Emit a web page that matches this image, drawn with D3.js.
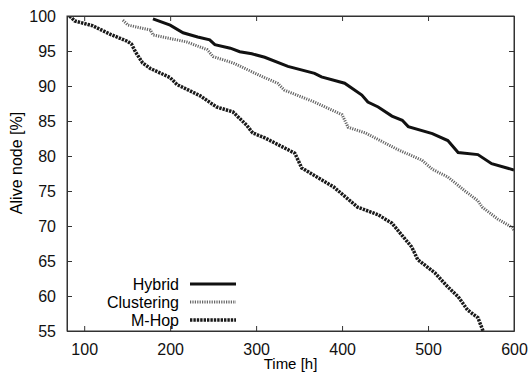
<!DOCTYPE html>
<html>
<head>
<meta charset="utf-8">
<script src="https://cdn.jsdelivr.net/npm/d3@7/dist/d3.min.js"></script>
<style>
    body { margin: 0; background: #fff; }
    svg { display: block; font-family: "Liberation Sans", Arial, sans-serif; }
    .axis path, .axis line { stroke: #333; }
    .axis text { fill: #111; font-size: 16px; }
</style>
</head>
<body>
<svg id="chart" width="530" height="386"></svg>
<script>
    // values
    var hybridTime = [180, 200, 215, 232, 246, 252, 270, 281, 295, 310, 337, 368, 376, 403, 423, 430, 442, 458, 470, 477, 505, 523, 535, 558, 574, 600];
    var hybridAlive = [99.6, 98.7, 97.6, 97.0, 96.6, 95.9, 95.4, 94.9, 94.6, 94.1, 92.8, 91.8, 91.3, 90.4, 88.7, 87.7, 87.0, 85.7, 85.1, 84.2, 83.2, 82.2, 80.5, 80.2, 78.9, 78.0];

    var clusteringTime = [145, 151, 177, 180, 219, 243, 250, 273, 308, 325, 333, 368, 400, 407, 427, 465, 493, 505, 523, 543, 558, 563, 581, 598, 600];
    var clusteringAlive = [99.4, 98.7, 98.0, 97.3, 96.3, 95.2, 94.2, 93.3, 91.3, 90.4, 89.4, 87.7, 85.9, 84.1, 83.3, 80.9, 79.4, 78.1, 77.0, 75.0, 73.6, 72.7, 71.0, 69.8, 69.3];

    var mhopTime = [83, 89, 110, 130, 150, 155, 160, 168, 177, 200, 208, 235, 254, 273, 289, 296, 310, 345, 353, 390, 418, 442, 458, 481, 488, 508, 523, 535, 546, 558, 564];
    var mhopAlive = [100, 99.3, 98.6, 97.4, 96.4, 96.0, 94.8, 93.3, 92.5, 91.2, 90.2, 88.6, 87.0, 86.3, 84.4, 83.3, 82.6, 80.4, 78.3, 75.6, 72.7, 71.6, 70.4, 67.0, 65.2, 63.3, 61.3, 59.9, 58.0, 56.9, 55.0];

    var xTicks = [100, 200, 300, 400, 500, 600];
    var yTicks = [55, 60, 65, 70, 75, 80, 85, 90, 95, 100];
    var seriesNames = ['Hybrid', 'Clustering', 'M-Hop'];

    var margin = {top: 16, right: 16, bottom: 55, left: 67};
    var svg = d3.select('#chart');
    var width = +svg.attr('width') - margin.left - margin.right;
    var height = +svg.attr('height') - margin.top - margin.bottom;

    var g = svg.append('g')
        .attr('transform', 'translate(' + margin.left + ',' + margin.top + ')');

    var x = d3.scaleLinear().domain([80, 600]).range([0, width]);
    var y = d3.scaleLinear().domain([55, 100]).range([height, 0]);

    var styles = [
        {stroke: '#111', width: 3, dash: null},
        {stroke: '#666', width: 3, dash: '1.2,1.2'},
        {stroke: '#1a1a1a', width: 3.5, dash: '2.4,1'}
    ];

    var series = [
        d3.zip(hybridTime, hybridAlive),
        d3.zip(clusteringTime, clusteringAlive),
        d3.zip(mhopTime, mhopAlive)
    ];

    g.append('clipPath').attr('id', 'clip')
        .append('rect').attr('width', width).attr('height', height);

    var line = d3.line()
        .x(function(d) { return x(d[0]); })
        .y(function(d) { return y(d[1]); });

    g.append('g').attr('clip-path', 'url(#clip)')
        .selectAll('path')
        .data(series)
        .enter().append('path')
        .attr('d', line)
        .attr('fill', 'none')
        .attr('stroke', function(d, i) { return styles[i].stroke; })
        .attr('stroke-width', function(d, i) { return styles[i].width; })
        .attr('stroke-dasharray', function(d, i) { return styles[i].dash; });

    // axes, ticks pointing inward on all four sides
    g.append('g').attr('class', 'axis')
        .attr('transform', 'translate(0,' + height + ')')
        .call(d3.axisBottom(x).tickValues(xTicks).tickSizeInner(-5).tickSizeOuter(0).tickPadding(13));
    g.append('g').attr('class', 'axis')
        .call(d3.axisLeft(y).tickValues(yTicks).tickSizeInner(-5).tickSizeOuter(0).tickPadding(11));
    g.append('g').attr('class', 'axis')
        .call(d3.axisTop(x).tickValues(xTicks).tickSizeInner(-5).tickSizeOuter(0).tickFormat(''));
    g.append('g').attr('class', 'axis')
        .attr('transform', 'translate(' + width + ',0)')
        .call(d3.axisRight(y).tickValues(yTicks).tickSizeInner(-5).tickSizeOuter(0).tickFormat(''));

    g.append('rect')
        .attr('width', width).attr('height', height)
        .attr('fill', 'none').attr('stroke', '#333');

    // axis titles
    svg.append('text')
        .attr('transform', 'translate(' + (margin.left + width / 2) + ',369)')
        .attr('text-anchor', 'middle')
        .style('font-size', '15px')
        .text('Time [h]');
    svg.append('text')
        .attr('transform', 'translate(22,163) rotate(-90)')
        .attr('text-anchor', 'middle')
        .style('font-size', '16px')
        .text('Alive node [%]');

    // legend
    var legend = svg.append('g').attr('transform', 'translate(179,284)');
    seriesNames.forEach(function(name, i) {
        var row = legend.append('g').attr('transform', 'translate(0,' + (i * 18) + ')');
        row.append('text')
            .attr('text-anchor', 'end')
            .attr('dy', '0.35em')
            .style('font-size', '16px')
            .text(name);
        row.append('line')
            .attr('x1', 11).attr('x2', 57)
            .attr('stroke', styles[i].stroke)
            .attr('stroke-width', styles[i].width)
            .attr('stroke-dasharray', styles[i].dash);
    });
</script>
</body>
</html>
